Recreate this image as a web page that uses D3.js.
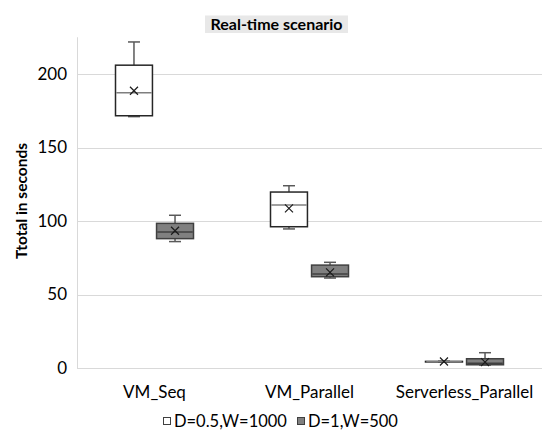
<!DOCTYPE html>
<html><head><meta charset="utf-8">
<script src="https://cdn.jsdelivr.net/npm/d3@7"></script>
<style>
html,body{margin:0;padding:0;background:#fff;}
svg{display:block;font-family:Lato,"Open Sans",sans-serif;}
</style></head>
<body><svg id="c" width="542" height="432"></svg>
<script>
const categories = ["VM_Seq", "VM_Parallel", "Serverless_Parallel"];
const series = ["D=0.5,W=1000", "D=1,W=500"];
const yTicks = [0, 50, 100, 150, 200];

// series 1: D=0.5,W=1000
const s1Min    = [171.0, 94.6, 4.0];
const s1Q1     = [171.6, 96.1, 4.1];
const s1Median = [187.3, 110.9, 4.3];
const s1Q3     = [206.0, 119.7, 4.5];
const s1Max    = [221.8, 124.0, 4.6];
const s1Mean   = [188.6, 108.6, 4.4];

// series 2: D=1,W=500
const s2Min    = [86.0, 61.2, 2.0];
const s2Q1     = [88.0, 62.1, 2.2];
const s2Median = [92.5, 63.9, 3.3];
const s2Q3     = [98.4, 70.0, 6.3];
const s2Max    = [103.9, 71.9, 10.4];
const s2Mean   = [93.4, 65.0, 4.0];

const seriesData = [
  {min: s1Min, q1: s1Q1, med: s1Median, q3: s1Q3, max: s1Max, mean: s1Mean},
  {min: s2Min, q1: s2Q1, med: s2Median, q3: s2Q3, max: s2Max, mean: s2Mean}
];
const styles = [
  {fill: "#ffffff", stroke: "#262626", med: "#7f7f7f", whisk: "#595959"},
  {fill: "#808080", stroke: "#404040", med: "#404040", whisk: "#595959"}
];

const svg = d3.select("#c");
const L = 77, R = 542, T = 37.25, B = 368;

const y = d3.scaleLinear().domain([0, 225]).range([B, T]);
const x0 = d3.scaleBand().domain(categories).range([L, R]);
const bw = x0.bandwidth();
const x1 = d3.scaleBand().domain(series).range([bw/2 - 39, bw/2 + 39]).paddingInner(0.1);

// gridlines
svg.append("g").selectAll("line").data(yTicks).join("line")
  .attr("x1", L).attr("x2", R)
  .attr("y1", d => Math.round(y(d)) + 0.5).attr("y2", d => Math.round(y(d)) + 0.5)
  .attr("stroke", "#d9d9d9").attr("stroke-width", 1);
// vertical axis line
svg.append("line").attr("x1", L + 0.5).attr("x2", L + 0.5).attr("y1", T).attr("y2", B)
  .attr("stroke", "#d9d9d9");

// y tick labels
svg.append("g").selectAll("text").data(yTicks).join("text")
  .attr("x", L - 10).attr("y", d => y(d)).attr("dy", "0.35em")
  .attr("text-anchor", "end").attr("font-size", 17).attr("fill", "#000")
  .text(d => d);

// x labels
svg.append("g").selectAll("text").data(categories).join("text")
  .attr("x", d => x0(d) + bw/2).attr("y", 392).attr("dy", "0.35em")
  .attr("text-anchor", "middle").attr("font-size", 17).attr("fill", "#000")
  .text(d => d);

// y axis title
svg.append("text").attr("transform", "translate(22,201) rotate(-90)")
  .attr("text-anchor", "middle").attr("dy", "0.35em")
  .attr("font-size", 15.5).attr("font-weight", "bold").attr("fill", "#000")
  .text("Ttotal in seconds");

// title
const tg = svg.append("g");
tg.append("rect").attr("x", 205).attr("y", 15.5).attr("width", 143).attr("height", 17.5).attr("fill", "#e8e8e8");
tg.append("text").attr("x", 276.5).attr("y", 24.5).attr("dy", "0.35em")
  .attr("text-anchor", "middle").attr("font-size", 16).attr("font-weight", "bold").attr("fill", "#000")
  .text("Real-time scenario");

// boxes
seriesData.forEach((s, si) => {
  const st = styles[si];
  const g = svg.append("g");
  categories.forEach((c, ci) => {
    const xl = x0(c) + x1(series[si]);
    const w = x1.bandwidth();
    const xc = xl + w/2;
    // whiskers
    g.append("line").attr("x1", xc).attr("x2", xc).attr("y1", y(s.q3[ci])).attr("y2", y(s.max[ci]))
      .attr("stroke", st.whisk).attr("stroke-width", 1.5);
    g.append("line").attr("x1", xc).attr("x2", xc).attr("y1", y(s.q1[ci])).attr("y2", y(s.min[ci]))
      .attr("stroke", st.whisk).attr("stroke-width", 1.5);
    g.append("line").attr("x1", xc - 6).attr("x2", xc + 6).attr("y1", y(s.max[ci])).attr("y2", y(s.max[ci]))
      .attr("stroke", st.whisk).attr("stroke-width", 1.5);
    g.append("line").attr("x1", xc - 6).attr("x2", xc + 6).attr("y1", y(s.min[ci])).attr("y2", y(s.min[ci]))
      .attr("stroke", st.whisk).attr("stroke-width", 1.5);
    // box
    g.append("rect").attr("x", xl).attr("y", y(s.q3[ci])).attr("width", w)
      .attr("height", Math.max(0.5, y(s.q1[ci]) - y(s.q3[ci])))
      .attr("fill", st.fill).attr("stroke", st.stroke).attr("stroke-width", 1.5);
    // median
    g.append("line").attr("x1", xl + 0.75).attr("x2", xl + w - 0.75).attr("y1", y(s.med[ci])).attr("y2", y(s.med[ci]))
      .attr("stroke", st.med).attr("stroke-width", 1.5);
    // mean marker X
    const my = y(s.mean[ci]), r = 4;
    g.append("path").attr("d", `M${xc - r},${my - r}L${xc + r},${my + r}M${xc - r},${my + r}L${xc + r},${my - r}`)
      .attr("stroke", "#1a1a1a").attr("stroke-width", 1.2).attr("fill", "none");
  });
});

// legend
const lg = svg.append("g");
const legX = [163, 297];
series.forEach((s, i) => {
  lg.append("rect").attr("x", legX[i] + 0.5).attr("y", 417.5).attr("width", 7).attr("height", 7)
    .attr("fill", styles[i].fill).attr("stroke", "#404040").attr("stroke-width", 1);
  lg.append("text").attr("x", legX[i] + 11).attr("y", 421).attr("dy", "0.35em")
    .attr("font-size", 16.5).attr("fill", "#000").text(s);
});
</script></body></html>
